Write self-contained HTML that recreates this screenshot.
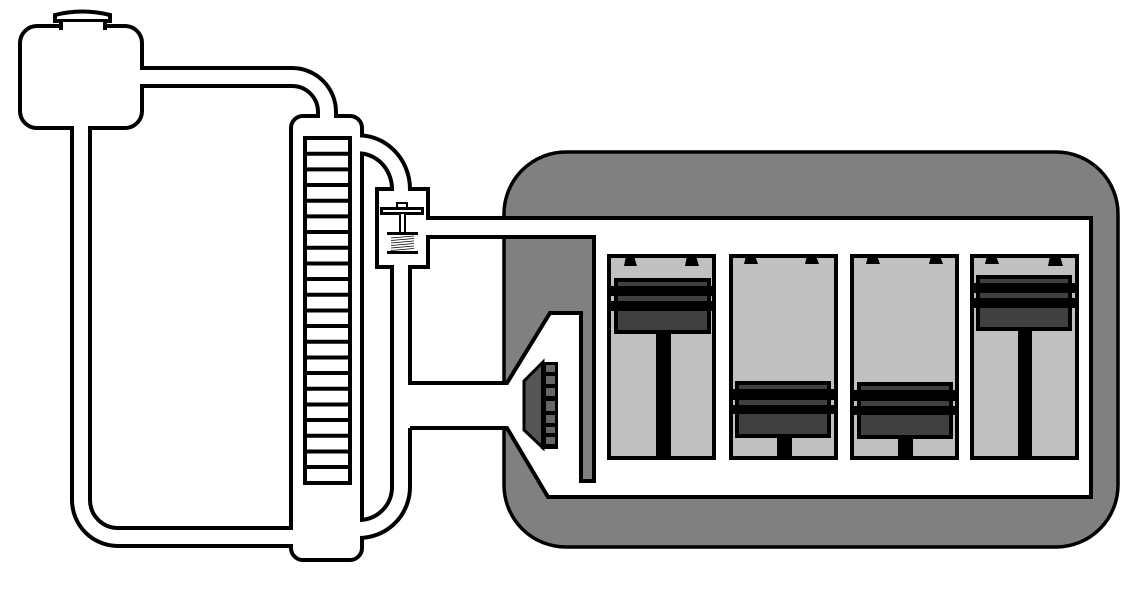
<!DOCTYPE html>
<html><head><meta charset="utf-8"><style>html,body{margin:0;padding:0;background:#fff}svg{display:block}</style></head>
<body>
<svg width="1147" height="598" viewBox="0 0 1147 598" xmlns="http://www.w3.org/2000/svg">
<rect x="504" y="152" width="614" height="395" rx="62" fill="#808080" stroke="#000" stroke-width="3.5"/>

<g fill="none" stroke="#000" stroke-width="22">
<path d="M130,77 H292 A35,35 0 0 1 327,112 V130"/>
<path d="M81,120 V500 A37,37 0 0 0 118,537 H300"/>
<path d="M350,145 A43,45 0 0 1 401,190 V200"/>
<path d="M401,260 V487 A42,42 0 0 1 359,529 H350"/>
</g>

<rect x="20" y="26" width="122" height="102" rx="17" fill="#fff" stroke="#000" stroke-width="4"/>
<rect x="61" y="18" width="44" height="10" fill="#fff" stroke="#000" stroke-width="4"/>
<path d="M55,21 V15 Q82,8 110,15 V21 Z" fill="#fff" stroke="#000" stroke-width="4"/>
<rect x="63" y="22" width="40" height="8" fill="#fff"/>

<rect x="291" y="116" width="71" height="444" rx="12" fill="#fff" stroke="#000" stroke-width="4"/>
<rect x="377" y="189" width="51" height="78" fill="#fff" stroke="#000" stroke-width="4"/>

<g fill="none" stroke="#fff" stroke-width="14">
<path d="M130,77 H292 A35,35 0 0 1 327,112 V130"/>
<path d="M81,120 V500 A37,37 0 0 0 118,537 H305"/>
<path d="M350,145 A43,45 0 0 1 401,190 V200"/>
<path d="M401,255 V487 A42,42 0 0 1 359,529 H350"/>
</g>

<path d="M418,220 H1091 V497 H548 L507,428 H401 V385 H507 L550,313 H581 V481 H594 V235 H418 Z" fill="#fff"/>
<g fill="none" stroke="#000" stroke-width="4" stroke-linejoin="miter">
<path d="M428,218 H1091 V497 H548 L507,428 H410"/>
<path d="M410,383 H507 L550,313 H581 V481 H594 V237 H428"/>
</g>

<rect x="305" y="138" width="45" height="345" fill="#fff" stroke="#000" stroke-width="4"/>
<g stroke="#000" stroke-width="4">
<line x1="305" x2="350" y1="153.7" y2="153.7"/><line x1="305" x2="350" y1="169.4" y2="169.4"/>
<line x1="305" x2="350" y1="185" y2="185"/><line x1="305" x2="350" y1="200.7" y2="200.7"/>
<line x1="305" x2="350" y1="216.4" y2="216.4"/><line x1="305" x2="350" y1="232" y2="232"/>
<line x1="305" x2="350" y1="247.8" y2="247.8"/><line x1="305" x2="350" y1="263.5" y2="263.5"/>
<line x1="305" x2="350" y1="279" y2="279"/><line x1="305" x2="350" y1="294.8" y2="294.8"/>
<line x1="305" x2="350" y1="310.5" y2="310.5"/><line x1="305" x2="350" y1="326" y2="326"/>
<line x1="305" x2="350" y1="341.8" y2="341.8"/><line x1="305" x2="350" y1="357.5" y2="357.5"/>
<line x1="305" x2="350" y1="373" y2="373"/><line x1="305" x2="350" y1="388.8" y2="388.8"/>
<line x1="305" x2="350" y1="404.5" y2="404.5"/><line x1="305" x2="350" y1="420" y2="420"/>
<line x1="305" x2="350" y1="435.8" y2="435.8"/><line x1="305" x2="350" y1="451.5" y2="451.5"/>
<line x1="305" x2="350" y1="467" y2="467"/>
</g>

<rect x="397" y="203" width="10" height="6" fill="#fff" stroke="#000" stroke-width="2"/>
<rect x="380" y="207" width="44" height="8" fill="#000"/>
<rect x="383" y="210" width="38" height="2" fill="#fff"/>
<rect x="399" y="214" width="7" height="18" fill="#000"/>
<rect x="401" y="214" width="3" height="18" fill="#fff"/>
<rect x="387" y="232" width="31" height="3" fill="#000"/>
<g stroke="#000" stroke-width="0.8">
<line x1="391" y1="238" x2="414" y2="236"/><line x1="391" y1="240.5" x2="414" y2="238.5"/>
<line x1="391" y1="243" x2="414" y2="241"/><line x1="391" y1="245.5" x2="414" y2="243.5"/>
<line x1="391" y1="248" x2="414" y2="246"/><line x1="391" y1="250.5" x2="414" y2="248.5"/>
</g>
<rect x="387" y="251" width="31" height="3" fill="#000"/>

<path d="M524,381 L543,362 V448 L524,430 Z" fill="#555" stroke="#000" stroke-width="3"/>
<rect x="541" y="362" width="17" height="87" fill="#000"/>
<g fill="#666">
<rect x="546" y="365" width="9" height="7"/><rect x="546" y="376" width="9" height="8"/>
<rect x="546" y="388" width="9" height="8"/><rect x="546" y="401" width="9" height="10"/>
<rect x="546" y="415" width="9" height="8"/><rect x="546" y="427" width="9" height="6"/>
<rect x="546" y="437" width="9" height="7"/>
</g>

<rect x="609" y="256" width="105" height="202" fill="#c0c0c0" stroke="#000" stroke-width="4"/>
<rect x="731" y="256" width="105" height="202" fill="#c0c0c0" stroke="#000" stroke-width="4"/>
<rect x="852" y="256" width="105" height="202" fill="#c0c0c0" stroke="#000" stroke-width="4"/>
<rect x="972" y="256" width="105" height="202" fill="#c0c0c0" stroke="#000" stroke-width="4"/>
<g fill="#000">
<path d="M624,266 L626,256 H634 L637,266 Z"/><path d="M685,266 L687,256 H696 L699,266 Z"/>
<path d="M744,264 L746,256 H755 L758,264 Z"/><path d="M805,264 L807,256 H816 L819,264 Z"/>
<path d="M866,264 L868,256 H877 L880,264 Z"/><path d="M929,264 L931,256 H940 L943,264 Z"/>
<path d="M985,264 L987,256 H996 L999,264 Z"/><path d="M1048,266 L1050,256 H1060 L1063,266 Z"/>
</g>

<g>
<rect x="656" y="330" width="15" height="128" fill="#000"/>
<rect x="614" y="278" width="97" height="56" fill="#000"/>
<rect x="618" y="282" width="89" height="4" fill="#404040"/>
<rect x="618" y="296" width="89" height="5" fill="#404040"/>
<rect x="618" y="311" width="89" height="19" fill="#404040"/>
<rect x="610" y="286" width="102" height="10" fill="#000"/>
<rect x="610" y="301" width="102" height="10" fill="#000"/>

<rect x="777" y="434" width="15" height="24" fill="#000"/>
<rect x="735" y="381" width="96" height="57" fill="#000"/>
<rect x="739" y="385" width="88" height="4" fill="#404040"/>
<rect x="739" y="400" width="88" height="5" fill="#404040"/>
<rect x="739" y="414" width="88" height="20" fill="#404040"/>
<rect x="732" y="389" width="103" height="11" fill="#000"/>
<rect x="732" y="405" width="103" height="9" fill="#000"/>

<rect x="898" y="435" width="15" height="23" fill="#000"/>
<rect x="857" y="382" width="96" height="57" fill="#000"/>
<rect x="861" y="386" width="88" height="4" fill="#404040"/>
<rect x="861" y="401" width="88" height="5" fill="#404040"/>
<rect x="861" y="415" width="88" height="20" fill="#404040"/>
<rect x="853" y="390" width="103" height="11" fill="#000"/>
<rect x="853" y="406" width="103" height="9" fill="#000"/>

<rect x="1018" y="327" width="14" height="131" fill="#000"/>
<rect x="976" y="275" width="96" height="56" fill="#000"/>
<rect x="980" y="279" width="88" height="4" fill="#404040"/>
<rect x="980" y="293" width="88" height="5" fill="#404040"/>
<rect x="980" y="308" width="88" height="19" fill="#404040"/>
<rect x="973" y="283" width="103" height="10" fill="#000"/>
<rect x="973" y="298" width="103" height="10" fill="#000"/>
</g>
</svg>
</body></html>
